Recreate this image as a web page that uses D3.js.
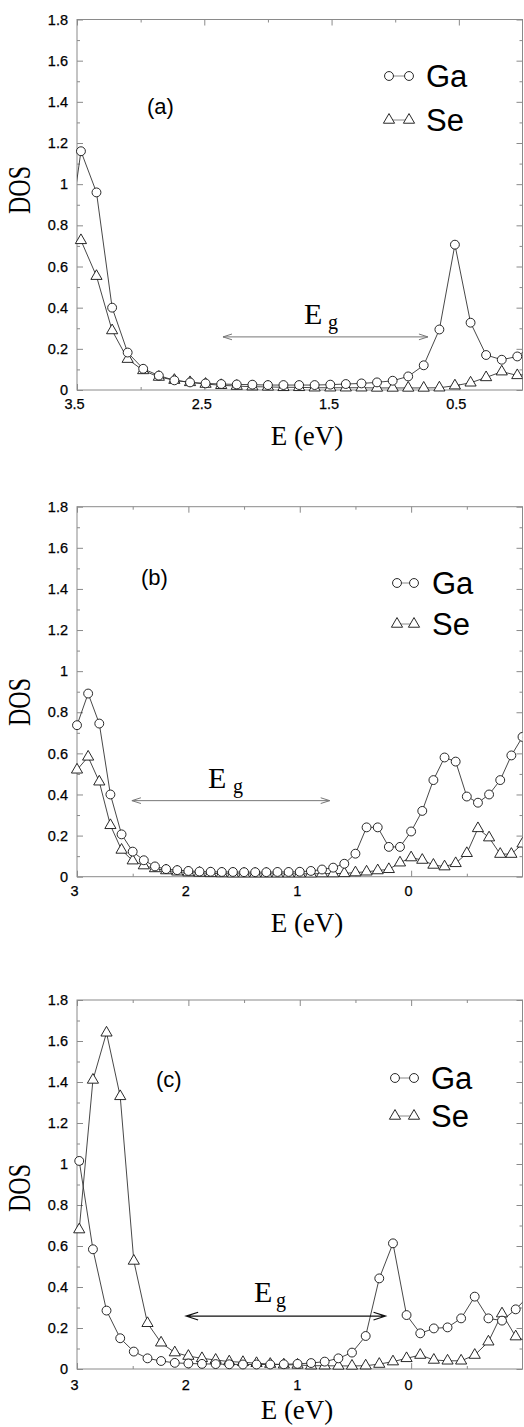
<!DOCTYPE html>
<html>
<head>
<meta charset="utf-8">
<script src="https://cdn.jsdelivr.net/npm/d3@7"></script>
<style>
  body { margin: 0; background: #fff; }
  svg { display: block; }
  .tick text { font-family: 'Liberation Sans', Arial, sans-serif; font-size: 14.5px; fill: #000; stroke: #000; stroke-width: 0.25px; }
  .tick line { stroke: #8a8a8a; }
  .serif { font-family: 'Liberation Serif', 'Times New Roman', serif; fill: #000; }
  .sans { font-family: 'Liberation Sans', Arial, sans-serif; fill: #000; }
</style>
</head>
<body>
<svg id="chart" width="524" height="1427"></svg>
<script>
// panel (a): energy grid (eV) and DOS
let energiesA = [3.592, 3.469, 3.347, 3.224, 3.102, 2.980, 2.857, 2.735, 2.612, 2.490,
  2.367, 2.245, 2.122, 2.000, 1.878, 1.755, 1.633, 1.510, 1.388, 1.265,
  1.143, 1.020, 0.898, 0.776, 0.653, 0.531, 0.408, 0.286, 0.163, 0.041, -0.082]
let gaA = [0.62, 1.16, 0.96, 0.40, 0.182, 0.103, 0.070, 0.047, 0.037, 0.032,
  0.029, 0.027, 0.026, 0.024, 0.024, 0.024, 0.024, 0.026, 0.029, 0.032,
  0.037, 0.045, 0.066, 0.120, 0.294, 0.706, 0.327, 0.170, 0.147, 0.163, 0.22]
let seA = [0.69, 0.727, 0.553, 0.289, 0.150, 0.095, 0.063, 0.048, 0.037, 0.029,
  0.023, 0.019, 0.016, 0.015, 0.013, 0.013, 0.011, 0.011, 0.011, 0.011,
  0.010, 0.010, 0.010, 0.010, 0.011, 0.021, 0.035, 0.061, 0.089, 0.071, 0.08]

// panel (b)
let energiesB = [3.0, 2.9, 2.8, 2.7, 2.6, 2.5, 2.4, 2.3, 2.2, 2.1,
  2.0, 1.9, 1.8, 1.7, 1.6, 1.5, 1.4, 1.3, 1.2, 1.1,
  1.0, 0.9, 0.8, 0.7, 0.6, 0.5, 0.4, 0.3, 0.2, 0.1,
  0.0, -0.1, -0.2, -0.3, -0.4, -0.5, -0.6, -0.7, -0.8, -0.9, -1.0]
let gaB = [0.737, 0.891, 0.745, 0.40, 0.206, 0.122, 0.080, 0.050, 0.037, 0.032,
  0.028, 0.025, 0.024, 0.023, 0.023, 0.022, 0.022, 0.022, 0.023, 0.023,
  0.024, 0.028, 0.035, 0.044, 0.063, 0.112, 0.24, 0.24, 0.145, 0.145,
  0.22, 0.32, 0.47, 0.58, 0.56, 0.39, 0.36, 0.40, 0.47, 0.59, 0.68]
let seB = [0.52, 0.583, 0.462, 0.25, 0.13, 0.078, 0.054, 0.040, 0.030, 0.024,
  0.020, 0.018, 0.016, 0.015, 0.014, 0.014, 0.014, 0.014, 0.014, 0.014,
  0.014, 0.014, 0.015, 0.015, 0.016, 0.020, 0.024, 0.030, 0.036, 0.068,
  0.093, 0.081, 0.057, 0.049, 0.065, 0.114, 0.235, 0.19, 0.11, 0.11, 0.16]

// panel (c)
let energiesC = [2.980, 2.857, 2.735, 2.612, 2.490, 2.367, 2.245, 2.122, 2.000, 1.878,
  1.755, 1.633, 1.510, 1.388, 1.265, 1.143, 1.020, 0.898, 0.776, 0.653,
  0.531, 0.408, 0.286, 0.163, 0.041, -0.082, -0.204, -0.327, -0.449, -0.571,
  -0.694, -0.816, -0.939, -1.061]
let gaC = [1.015, 0.584, 0.285, 0.150, 0.085, 0.052, 0.039, 0.030, 0.027, 0.025,
  0.024, 0.023, 0.022, 0.022, 0.022, 0.023, 0.025, 0.029, 0.036, 0.052,
  0.080, 0.161, 0.442, 0.613, 0.263, 0.174, 0.198, 0.203, 0.247, 0.353,
  0.247, 0.236, 0.291, 0.36]
let seC = [0.68, 1.41, 1.64, 1.33, 0.527, 0.223, 0.128, 0.080, 0.063, 0.052,
  0.044, 0.036, 0.033, 0.028, 0.024, 0.021, 0.020, 0.016, 0.016, 0.015,
  0.015, 0.016, 0.024, 0.036, 0.052, 0.068, 0.044, 0.040, 0.040, 0.068,
  0.133, 0.270, 0.158, 0.13]

// E_g arrows: [from eV, to eV, DOS height]
let gapA = [2.353, 0.743, 0.258]
let gapB = [2.507, 0.731, 0.37]
let gapC = [2.02, 0.23, 0.258]

// ticks
let yMajor = [0, 0.2, 0.4, 0.6, 0.8, 1.0, 1.2, 1.4, 1.6, 1.8]
let yLabels = ['0', '0.2', '0.4', '0.6', '0.8', '1', '1.2', '1.4', '1.6', '1.8']
let yMinor = [0.1, 0.3, 0.5, 0.7, 0.9, 1.1, 1.3, 1.5, 1.7]
let xMajorA = [3.5, 2.5, 1.5, 0.5]
let xLabelsA = ['3.5', '2.5', '1.5', '0.5']
let xMinorA = [3.0, 2.0, 1.0]
let xMajorBC = [3, 2, 1, 0]
let xLabelsBC = ['3', '2', '1', '0']
let xMinorBC = [2.5, 1.5, 0.5, -0.5]

let series = ['Ga', 'Se']

let panels = [
  {
    id: 'a', label: '(a)', energies: energiesA, ga: gaA, se: seA, gap: gapA,
    domain: [3.5, 0], xMajor: xMajorA, xLabels: xLabelsA, xMinor: xMinorA,
    top: 19.5, bottom: 390, xPad: 9,
    labelPos: [147, 114], legend: { x1: 389, x2: 409, tx: 426, y: [76, 120] },
    eg: { ex: 304, ey: 324, gx: 328, gy: 329, color: '#777', width: 1, head: 9 },
    dosY: 190, eX: 307, eY: 445
  },
  {
    id: 'b', label: '(b)', energies: energiesB, ga: gaB, se: seB, gap: gapB,
    domain: [3, -1], xMajor: xMajorBC, xLabels: xLabelsBC, xMinor: xMinorBC,
    top: 506.7, bottom: 876.7, xPad: 9,
    labelPos: [141, 585], legend: { x1: 397, x2: 414, tx: 432, y: [583, 624] },
    eg: { ex: 208, ey: 788, gx: 233, gy: 793, color: '#777', width: 1, head: 9 },
    dosY: 702, eX: 307, eY: 932
  },
  {
    id: 'c', label: '(c)', energies: energiesC, ga: gaC, se: seC, gap: gapC,
    domain: [3, -1], xMajor: xMajorBC, xLabels: xLabelsBC, xMinor: xMinorBC,
    top: 1000, bottom: 1369, xPad: 11,
    labelPos: [156, 1087], legend: { x1: 395, x2: 414, tx: 431, y: [1078, 1116] },
    eg: { ex: 254, ey: 1302, gx: 276, gy: 1307, color: '#111', width: 1.2, head: 12 },
    dosY: 1188, eX: 297, eY: 1419
  }
]

let svg = d3.select('#chart')
let left = 77
let right = 522.5

let circleSym = d3.symbol().type(d3.symbolCircle).size(62)
let triangleSym = d3.symbol().type(d3.symbolTriangle).size(54)

function drawMarker (sel, kind) {
  sel.attr('d', kind === 'Ga' ? circleSym : triangleSym)
    .attr('fill', '#fff')
    .attr('stroke', '#111')
    .attr('stroke-width', 0.9)
}

panels.forEach(p => {
  let x = d3.scaleLinear().domain(p.domain).range([left, right])
  let y = d3.scaleLinear().domain([0, 1.8]).range([p.bottom, p.top])
  let g = svg.append('g').attr('class', `panel-${p.id}`)

  // clip lines to the frame, markers only at the right edge
  g.append('clipPath').attr('id', `clip-line-${p.id}`)
    .append('rect')
      .attr('x', left).attr('y', p.top - 20)
      .attr('width', right - left).attr('height', p.bottom - p.top + 40)
  g.append('clipPath').attr('id', `clip-mark-${p.id}`)
    .append('rect')
      .attr('x', left - 10).attr('y', p.top - 20)
      .attr('width', right - left + 10).attr('height', p.bottom - p.top + 40)

  // axes: ticks point inwards on all four sides
  let tickAxis = (axis, values, size, cls, fmt, pad) => {
    let a = axis.tickValues(values).tickSize(-size).tickSizeOuter(0)
      .tickFormat(fmt || '').tickPadding(pad || 0)
    let ag = g.append('g').attr('class', cls).call(a)
    ag.select('.domain').remove()
    return ag
  }
  let fmtX = d => p.xLabels[p.xMajor.indexOf(d)]
  let fmtY = d => yLabels[yMajor.indexOf(d)]

  let bottomAxis = tickAxis(d3.axisBottom(x), p.xMajor, 6, 'x-major', fmtX, p.xPad)
    .attr('transform', `translate(0,${p.bottom})`)
  bottomAxis.selectAll('text').attr('dx', -3)
  tickAxis(d3.axisBottom(x), p.xMinor, 3, 'x-minor').attr('transform', `translate(0,${p.bottom})`)
  tickAxis(d3.axisTop(x), p.xMajor, 6, 'x-major-top').attr('transform', `translate(0,${p.top})`)
  tickAxis(d3.axisTop(x), p.xMinor, 3, 'x-minor-top').attr('transform', `translate(0,${p.top})`)

  tickAxis(d3.axisLeft(y), yMajor, 6, 'y-major', fmtY, 9).attr('transform', `translate(${left},0)`)
  tickAxis(d3.axisLeft(y), yMinor, 3, 'y-minor').attr('transform', `translate(${left},0)`)
  tickAxis(d3.axisRight(y), yMajor, 6, 'y-major-right').attr('transform', `translate(${right},0)`)
  tickAxis(d3.axisRight(y), yMinor, 3, 'y-minor-right').attr('transform', `translate(${right},0)`)

  // frame
  g.append('rect')
    .attr('x', left).attr('y', p.top)
    .attr('width', right - left).attr('height', p.bottom - p.top)
    .attr('fill', 'none').attr('stroke', '#8a8a8a').attr('stroke-width', 1)

  // data
  let rows = p.energies.map((e, i) => ({ e: e, Ga: p.ga[i], Se: p.se[i] }))
  let inside = rows.filter(d => d.e <= p.domain[0] + 1e-6 && d.e >= p.domain[1] - 0.05)

  series.slice().reverse().forEach(s => {
    let line = d3.line().x(d => x(d.e)).y(d => y(d[s]))
    g.append('path')
      .datum(rows)
      .attr('clip-path', `url(#clip-line-${p.id})`)
      .attr('d', line)
      .attr('fill', 'none')
      .attr('stroke', '#333')
      .attr('stroke-width', 0.9)
  })
  series.slice().reverse().forEach(s => {
    g.append('g')
        .attr('clip-path', `url(#clip-mark-${p.id})`)
      .selectAll('path')
      .data(inside)
      .join('path')
        .attr('transform', d => `translate(${x(d.e)},${y(d[s])})`)
        .call(sel => drawMarker(sel, s))
  })

  // panel letter
  g.append('text').attr('class', 'sans')
    .attr('x', p.labelPos[0]).attr('y', p.labelPos[1])
    .attr('font-size', 22)
    .text(p.label)

  // legend
  series.forEach((s, i) => {
    let ly = p.legend.y[i]
    g.append('line')
      .attr('x1', p.legend.x1).attr('x2', p.legend.x2)
      .attr('y1', ly).attr('y2', ly)
      .attr('stroke', '#888').attr('stroke-width', 1)
    g.selectAll(null)
      .data([p.legend.x1, p.legend.x2])
      .join('path')
        .attr('transform', d => `translate(${d},${ly})`)
        .call(sel => drawMarker(sel, s))
    g.append('text').attr('class', 'sans')
      .attr('x', p.legend.tx).attr('y', ly + 11)
      .attr('font-size', 31)
      .text(s)
  })

  // band gap arrow
  let [e0, e1, h] = p.gap
  let ax0 = x(e0)
  let ax1 = x(e1)
  let ay = y(h)
  let hl = p.eg.head
  let hw = hl * 0.32
  g.append('path')
    .attr('d', `M${ax0},${ay}H${ax1}` +
      `M${ax0 + hl},${ay - hw}L${ax0},${ay}L${ax0 + hl},${ay + hw}` +
      `M${ax1 - hl},${ay - hw}L${ax1},${ay}L${ax1 - hl},${ay + hw}`)
    .attr('fill', 'none')
    .attr('stroke', p.eg.color)
    .attr('stroke-width', p.eg.width)
  g.append('text').attr('class', 'serif')
    .attr('x', p.eg.ex).attr('y', p.eg.ey)
    .attr('font-size', 30)
    .text('E')
  g.append('text').attr('class', 'serif')
    .attr('x', p.eg.gx).attr('y', p.eg.gy)
    .attr('font-size', 20)
    .text('g')

  // axis titles
  g.append('text').attr('class', 'serif')
    .attr('transform', `translate(30,${p.dosY}) rotate(-90) scale(1,1.3)`)
    .attr('text-anchor', 'middle')
    .attr('font-size', 24)
    .text('DOS')
  g.append('text').attr('class', 'serif')
    .attr('x', p.eX).attr('y', p.eY)
    .attr('text-anchor', 'middle')
    .attr('font-size', 27)
    .text('E (eV)')
})
</script>
</body>
</html>
